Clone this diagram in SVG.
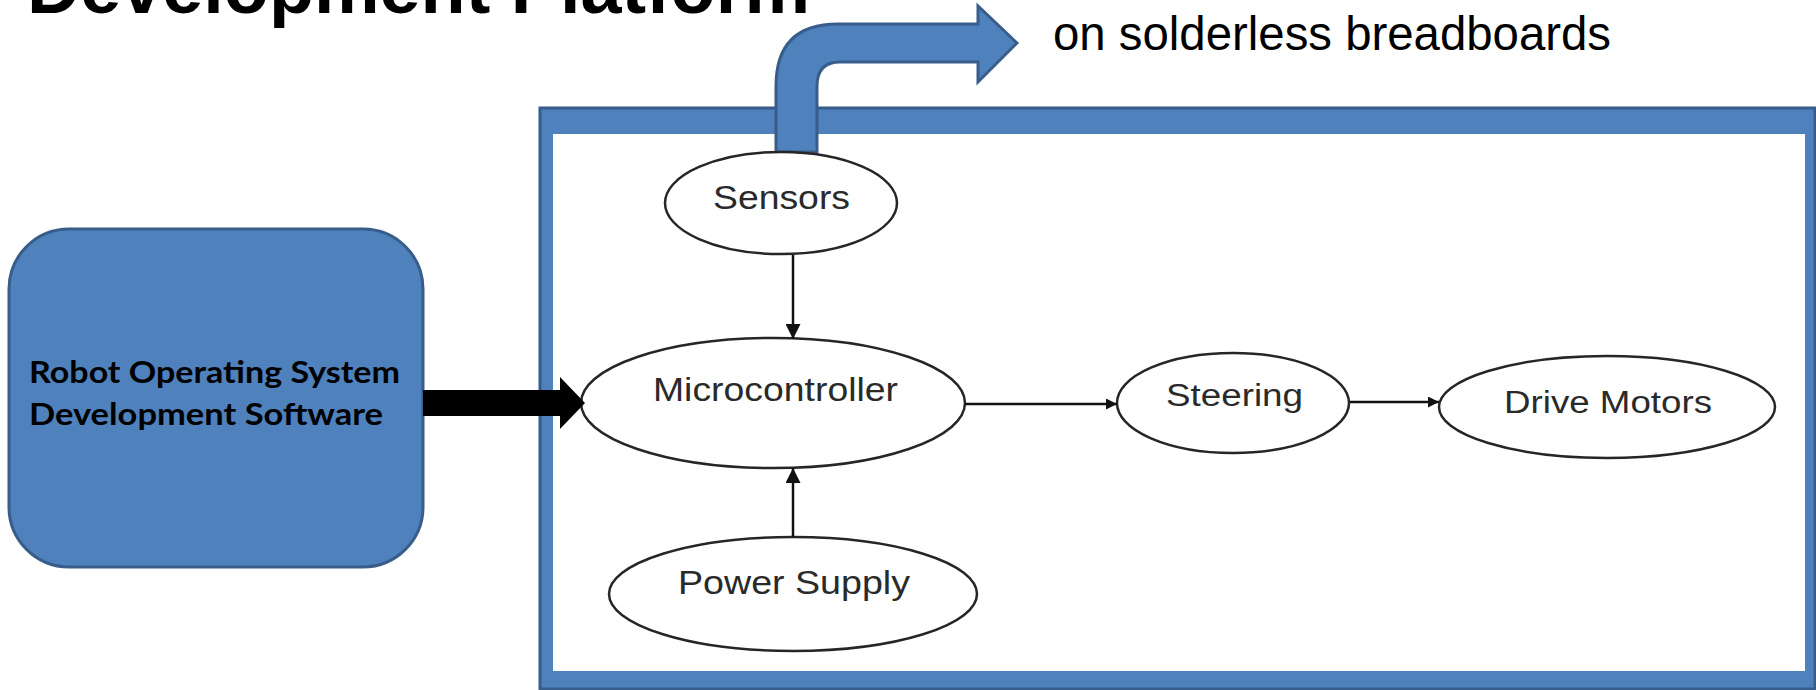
<svg xmlns="http://www.w3.org/2000/svg" width="1816" height="690" viewBox="0 0 1816 690">
<defs>
<style>
.blue{fill:#4F81BD;stroke:#385D8A;stroke-width:3;}
.ell{fill:#ffffff;stroke:#262626;stroke-width:2.5;}
.lbl{font-family:"Liberation Sans",Arial,sans-serif;font-size:33px;fill:#2a2a2a;}
.lbl2{font-family:"Liberation Sans",Arial,sans-serif;font-size:31px;fill:#2a2a2a;}
.box{font-family:Lato,"Liberation Sans",Arial,sans-serif;font-size:30px;font-weight:bold;fill:#000;}
.edge{stroke:#111;stroke-width:2.5;fill:none;}
</style>
<marker id="ah" viewBox="0 0 10 10" refX="10" refY="5" markerWidth="15" markerHeight="15" markerUnits="userSpaceOnUse" orient="auto">
<path d="M0,0 L10,5 L0,10 Z" fill="#111"/>
</marker>
<marker id="ahs" viewBox="0 0 10 10" refX="10" refY="5" markerWidth="11" markerHeight="11" markerUnits="userSpaceOnUse" orient="auto">
<path d="M0,0 L10,5 L0,10 Z" fill="#111"/>
</marker>
</defs>
<rect width="1816" height="690" fill="#ffffff"/>

<g id="title">
<text x="27" y="13" font-family="'Liberation Sans',Arial,sans-serif" font-size="74" font-weight="bold" fill="#000" textLength="783" lengthAdjust="spacingAndGlyphs">Development Platform</text>
</g>

<g id="caption">
<text x="1053" y="50" font-family="'Liberation Sans',Arial,sans-serif" font-size="47.5" fill="#000" textLength="558" lengthAdjust="spacingAndGlyphs">on solderless breadboards</text>
</g>

<g id="frame">
<rect x="540" y="108" width="1275" height="581" class="blue"/>
<rect x="553" y="134" width="1252" height="537" fill="#ffffff"/>
</g>

<g id="bent-arrow">
<path class="blue" d="M776,152 L776,86 Q776,24 838,24 L978,24 L978,6 L1017,43 L978,82 L978,62 L840,62 Q817,62 817,86 L817,152 Z"/>
</g>

<g id="ros">
<rect x="9" y="229" width="414" height="338" rx="60" ry="60" class="blue"/>
<text x="29" y="383" class="box" textLength="371" lengthAdjust="spacingAndGlyphs">Robot Operating System</text>
<text x="29" y="425" class="box" textLength="354" lengthAdjust="spacingAndGlyphs">Development Software</text>
</g>

<g id="sensors">
<ellipse cx="781" cy="203" rx="116" ry="51" class="ell"/>
<text x="713" y="209" class="lbl" textLength="137" lengthAdjust="spacingAndGlyphs">Sensors</text>
</g>

<g id="microcontroller">
<ellipse cx="773" cy="403" rx="192" ry="65" class="ell"/>
<text x="653" y="401" class="lbl" textLength="245" lengthAdjust="spacingAndGlyphs">Microcontroller</text>
</g>

<g id="power-supply">
<ellipse cx="793" cy="594" rx="184" ry="57" class="ell"/>
<text x="678" y="594" class="lbl" textLength="232" lengthAdjust="spacingAndGlyphs">Power Supply</text>
</g>

<g id="steering">
<ellipse cx="1233" cy="403" rx="116" ry="50" class="ell"/>
<text x="1166" y="406" class="lbl2" textLength="137" lengthAdjust="spacingAndGlyphs">Steering</text>
</g>

<g id="drive-motors">
<ellipse cx="1607" cy="407" rx="168" ry="51" class="ell"/>
<text x="1504" y="413" class="lbl2" textLength="208" lengthAdjust="spacingAndGlyphs">Drive Motors</text>
</g>

<g id="connectors">
<path d="M423,390 L560,390 L560,377 L585,403 L560,429 L560,416 L423,416 Z" fill="#000"/>
<line x1="793" y1="255" x2="793" y2="339" class="edge" marker-end="url(#ah)"/>
<line x1="793" y1="537" x2="793" y2="468" class="edge" marker-end="url(#ah)"/>
<line x1="965" y1="404" x2="1117" y2="404" class="edge" marker-end="url(#ahs)"/>
<line x1="1350" y1="402" x2="1439" y2="402" class="edge" marker-end="url(#ahs)"/>
</g>
</svg>
